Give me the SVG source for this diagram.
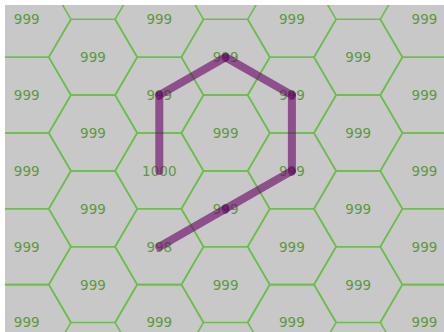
<svg xmlns="http://www.w3.org/2000/svg" xmlns:xlink="http://www.w3.org/1999/xlink" width="444" height="332" viewBox="0 0 444 332">
<style>
.hex{fill:none;stroke:#6cbf4c;stroke-width:1.6}
.lbl{font-family:"DejaVu Sans",sans-serif;font-size:13.5px;fill:#5c9a3e;text-anchor:middle}
.path line{stroke:#660066;stroke-opacity:0.6;stroke-width:8;stroke-linecap:round}
</style>
<defs>
<polygon id="hx" points="44.2,0 22.1,-37.9 -22.1,-37.9 -44.2,0 -22.1,37.9 22.1,37.9"/>
<clipPath id="clip"><rect x="5" y="5" width="439" height="327"/></clipPath>
</defs>
<rect width="444" height="332" fill="#ffffff"/>
<rect x="5" y="5" width="439" height="327" fill="#c8c8c8"/>
<g clip-path="url(#clip)">
<g id="cells">
<g id="c0r0"><use href="#hx" x="26.7" y="19.3" class="hex"/><text class="lbl" x="26.7" y="24.2">999</text></g>
<g id="c0r1"><use href="#hx" x="26.7" y="95.1" class="hex"/><text class="lbl" x="26.7" y="100">999</text></g>
<g id="c0r2"><use href="#hx" x="26.7" y="170.9" class="hex"/><text class="lbl" x="26.7" y="175.8">999</text></g>
<g id="c0r3"><use href="#hx" x="26.7" y="246.7" class="hex"/><text class="lbl" x="26.7" y="251.6">999</text></g>
<g id="c0r4"><use href="#hx" x="26.7" y="322.5" class="hex"/><text class="lbl" x="26.7" y="327.4">999</text></g>
<g id="c1r0"><use href="#hx" x="93" y="57.2" class="hex"/><text class="lbl" x="93" y="62.1">999</text></g>
<g id="c1r1"><use href="#hx" x="93" y="133" class="hex"/><text class="lbl" x="93" y="137.9">999</text></g>
<g id="c1r2"><use href="#hx" x="93" y="208.8" class="hex"/><text class="lbl" x="93" y="213.7">999</text></g>
<g id="c1r3"><use href="#hx" x="93" y="284.6" class="hex"/><text class="lbl" x="93" y="289.5">999</text></g>
<g id="c2r0"><use href="#hx" x="159.3" y="19.3" class="hex"/><text class="lbl" x="159.3" y="24.2">999</text></g>
<g id="c2r1"><use href="#hx" x="159.3" y="95.1" class="hex"/><text class="lbl" x="159.3" y="100">999</text></g>
<g id="c2r2"><use href="#hx" x="159.3" y="170.9" class="hex"/><text class="lbl" x="159.3" y="175.8">1000</text></g>
<g id="c2r3"><use href="#hx" x="159.3" y="246.7" class="hex"/><text class="lbl" x="159.3" y="251.6">998</text></g>
<g id="c2r4"><use href="#hx" x="159.3" y="322.5" class="hex"/><text class="lbl" x="159.3" y="327.4">999</text></g>
<g id="c3r0"><use href="#hx" x="225.6" y="57.2" class="hex"/><text class="lbl" x="225.6" y="62.1">999</text></g>
<g id="c3r1"><use href="#hx" x="225.6" y="133" class="hex"/><text class="lbl" x="225.6" y="137.9">999</text></g>
<g id="c3r2"><use href="#hx" x="225.6" y="208.8" class="hex"/><text class="lbl" x="225.6" y="213.7">999</text></g>
<g id="c3r3"><use href="#hx" x="225.6" y="284.6" class="hex"/><text class="lbl" x="225.6" y="289.5">999</text></g>
<g id="c4r0"><use href="#hx" x="291.9" y="19.3" class="hex"/><text class="lbl" x="291.9" y="24.2">999</text></g>
<g id="c4r1"><use href="#hx" x="291.9" y="95.1" class="hex"/><text class="lbl" x="291.9" y="100">999</text></g>
<g id="c4r2"><use href="#hx" x="291.9" y="170.9" class="hex"/><text class="lbl" x="291.9" y="175.8">999</text></g>
<g id="c4r3"><use href="#hx" x="291.9" y="246.7" class="hex"/><text class="lbl" x="291.9" y="251.6">999</text></g>
<g id="c4r4"><use href="#hx" x="291.9" y="322.5" class="hex"/><text class="lbl" x="291.9" y="327.4">999</text></g>
<g id="c5r0"><use href="#hx" x="358.2" y="57.2" class="hex"/><text class="lbl" x="358.2" y="62.1">999</text></g>
<g id="c5r1"><use href="#hx" x="358.2" y="133" class="hex"/><text class="lbl" x="358.2" y="137.9">999</text></g>
<g id="c5r2"><use href="#hx" x="358.2" y="208.8" class="hex"/><text class="lbl" x="358.2" y="213.7">999</text></g>
<g id="c5r3"><use href="#hx" x="358.2" y="284.6" class="hex"/><text class="lbl" x="358.2" y="289.5">999</text></g>
<g id="c6r0"><use href="#hx" x="424.5" y="19.3" class="hex"/><text class="lbl" x="424.5" y="24.2">999</text></g>
<g id="c6r1"><use href="#hx" x="424.5" y="95.1" class="hex"/><text class="lbl" x="424.5" y="100">999</text></g>
<g id="c6r2"><use href="#hx" x="424.5" y="170.9" class="hex"/><text class="lbl" x="424.5" y="175.8">999</text></g>
<g id="c6r3"><use href="#hx" x="424.5" y="246.7" class="hex"/><text class="lbl" x="424.5" y="251.6">999</text></g>
<g id="c6r4"><use href="#hx" x="424.5" y="322.5" class="hex"/><text class="lbl" x="424.5" y="327.4">999</text></g>
</g>
<g id="connectors" class="path">
<line x1="159.3" y1="170.9" x2="159.3" y2="95.1"/>
<line x1="159.3" y1="95.1" x2="225.6" y2="57.2"/>
<line x1="225.6" y1="57.2" x2="291.9" y2="95.1"/>
<line x1="291.9" y1="95.1" x2="291.9" y2="170.9"/>
<line x1="291.9" y1="170.9" x2="225.6" y2="208.8"/>
<line x1="225.6" y1="208.8" x2="159.3" y2="246.7"/>
</g>
</g>
</svg>
